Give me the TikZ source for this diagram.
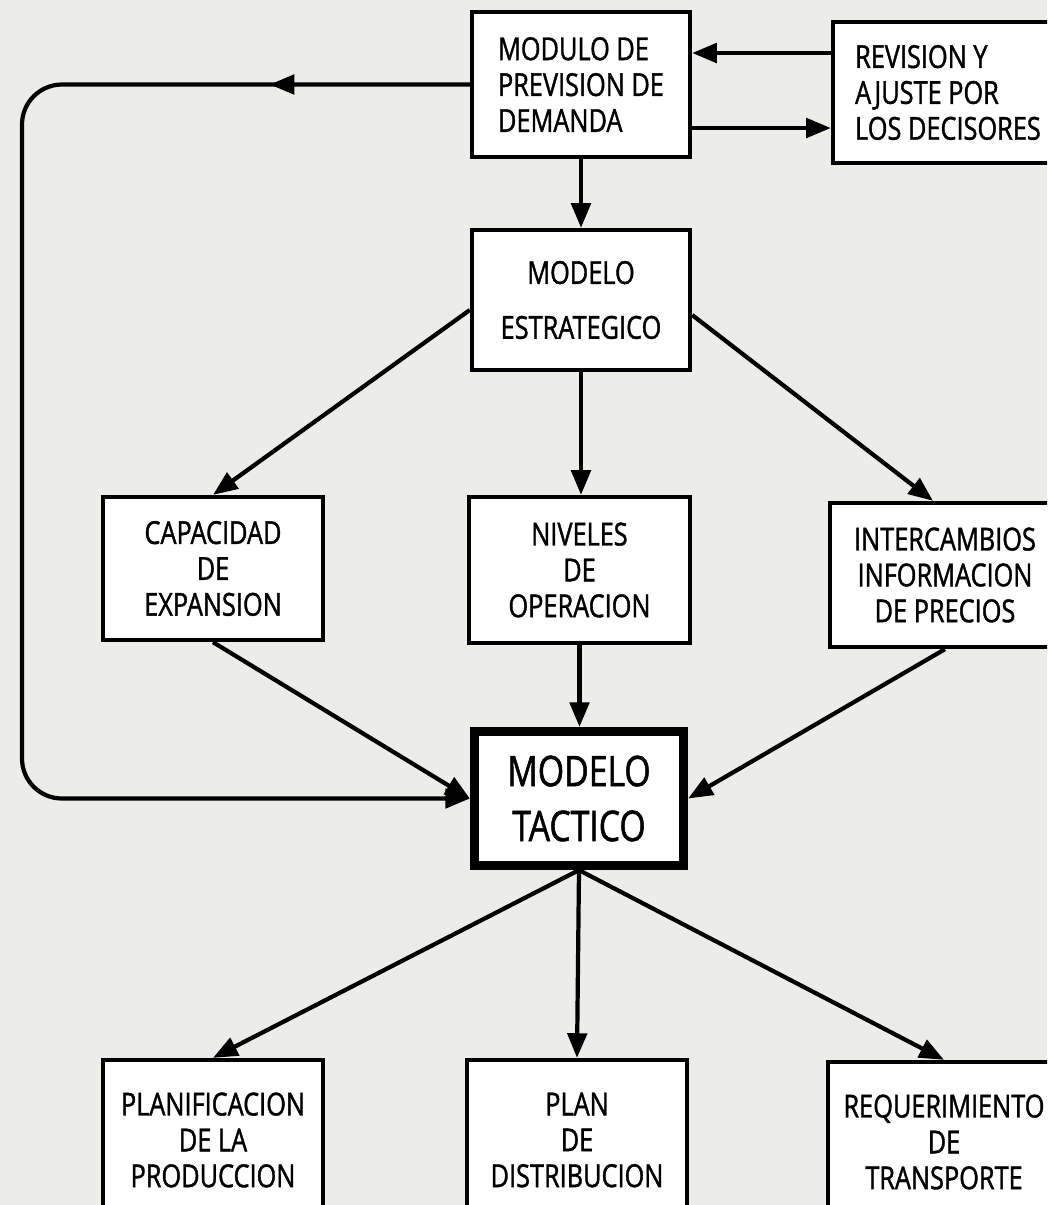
\documentclass[tikz,border=0pt]{standalone}
\usepackage{fontspec}
\setmainfont[FakeStretch=0.8,FakeBold=1.2]{Open Sans}
\usetikzlibrary{arrows.meta,calc,decorations.markings}
\definecolor{papel}{RGB}{236,236,233}
\tikzset{
  caja/.style={draw, fill=white, line width=1.2pt, inner sep=0pt, align=center, font=\fontsize{9}{10.2}\selectfont},
  flecha/.style={line width=1.2pt, -{Triangle[length=7pt,width=5.5pt]}},
}
\begin{document}
\begin{tikzpicture}[x=0.01cm,y=-0.01cm]
    \clip (0,0) rectangle (1047,1205);
    \fill[papel] (0,0) rectangle (1047,1205);
    \node[caja,minimum width=2.18cm,minimum height=1.45cm,align=left] (prevision) at (581,84.5) {MODULO DE\\PREVISION DE\\DEMANDA};
    \node[caja,minimum width=2.3cm,minimum height=1.41cm,align=left] (revision) at (948,92.5) {REVISION Y\\AJUSTE POR\\LOS DECISORES};
    \node[caja,minimum width=2.18cm,minimum height=1.4cm,font=\fontsize{9}{15.6}\selectfont] (estrategico) at (581,300) {MODELO\\ESTRATEGICO};
    \node[caja,minimum width=2.2cm,minimum height=1.43cm] (capacidad) at (213,568.5) {CAPACIDAD\\DE\\EXPANSION};
    \node[caja,minimum width=2.21cm,minimum height=1.46cm] (niveles) at (579.5,570) {NIVELES\\DE\\OPERACION};
    \node[caja,minimum width=2.3cm,minimum height=1.44cm] (intercambios) at (945,575) {INTERCAMBIOS\\INFORMACION\\DE PRECIOS};
    \node[caja,line width=2.6pt,minimum width=2.09cm,minimum height=1.34cm,font=\fontsize{12}{15.6}\selectfont] (tactico) at (579,798.5) {MODELO\\TACTICO};
    \node[caja,minimum width=2.2cm,minimum height=1.6cm] (planificacion) at (213,1140) {PLANIFICACION\\DE LA\\PRODUCCION};
    \node[caja,minimum width=2.2cm,minimum height=1.6cm] (plan) at (577,1140) {PLAN\\DE\\DISTRIBUCION};
    \node[caja,minimum width=2.32cm,minimum height=1.6cm] (requerimiento) at (944,1142) {REQUERIMIENTO\\DE\\TRANSPORTE};
    \coordinate (a1) at ($(prevision.east)+(0,-31.5)$);
    \coordinate (a2) at ($(prevision.east)+(0,43.5)$);
    \coordinate (esq1) at (22,84.5);
    \coordinate (esq2) at (22,798.5);
    \draw[flecha] (revision.west |- a1) -- (a1);
    \draw[flecha] (a2) -- (revision.west |- a2);
    \draw[flecha,rounded corners=0.4cm,postaction=decorate,decoration={markings,mark=at position 2.0cm with {\arrow{Triangle[length=7pt,width=5.5pt]}}}] (prevision.west) -- (esq1) -- (esq2) -- (tactico.west);
    \draw[flecha] (prevision) -- (estrategico);
    \draw[flecha] ($(estrategico.west)+(0,10)$) -- (capacidad.north);
    \draw[flecha] (estrategico.south) -- (estrategico.south |- niveles.north);
    \draw[flecha] ($(estrategico.east)+(0,15)$) -- ($(intercambios.north)+(-12,0)$);
    \draw[flecha] (capacidad.south) -- (tactico.west);
    \draw[flecha] (niveles.south) -- (niveles.south |- tactico.north);
    \draw[flecha] (intercambios.south) -- (tactico.east);
    \draw[flecha] (tactico.south) -- (planificacion.north);
    \draw[flecha] (tactico.south) -- (plan.north);
    \draw[flecha] (tactico.south) -- (requerimiento.north);
\end{tikzpicture}
\end{document}
